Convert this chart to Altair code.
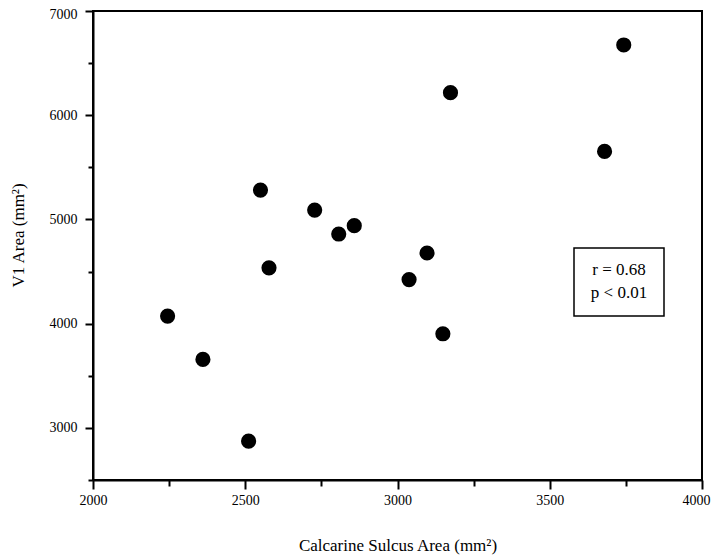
import altair as alt
import pandas as pd

calcarine = [2245, 2361, 2511, 2550, 2578, 2728, 2807, 2858, 3038, 3097, 3149, 3174, 3680, 3743]
v1_area = [4073, 3657, 2873, 5282, 4536, 5090, 4860, 4940, 4423, 4678, 3903, 6216, 5653, 6674]
stats_lines = ["r = 0.68", "p < 0.01"]

x_ticks = list(range(2000, 4001, 250))
y_ticks = list(range(2500, 7001, 500))

df = pd.DataFrame({"x": calcarine, "y": v1_area})

FONT = "Liberation Serif"

xscale = alt.Scale(domain=[2000, 4000], nice=False, zero=False)
yscale = alt.Scale(domain=[2500, 7000], nice=False, zero=False)

points = alt.Chart(df).mark_circle(size=230, color="black", opacity=1).encode(
    x=alt.X("x:Q", scale=xscale,
            axis=alt.Axis(title="Calcarine Sulcus Area (mm²)", values=x_ticks,
                          labelExpr="datum.value % 500 == 0 ? datum.value : ''",
                          grid=False, tickWidth=2, tickColor="black",
                          tickSize={"condition": {"test": "datum.value % 500 == 0", "value": 9}, "value": 6},
                          domainColor="black", domainWidth=2,
                          labelFont=FONT, labelFontSize=14, labelColor="black",
                          labelPadding=4, labelFlush=False,
                          labelOffset={"condition": {"test": "datum.value == 4000", "value": -6}, "value": 0},
                          titleFont=FONT, titleFontSize=17, titleFontWeight="normal",
                          titleColor="black", titleY=57, titleBaseline="top")),
    y=alt.Y("y:Q", scale=yscale,
            axis=alt.Axis(title="V1 Area (mm²)", values=y_ticks,
                          labelExpr="datum.value % 1000 == 0 ? datum.value : ''",
                          grid=False, tickWidth=2, tickColor="black",
                          tickSize={"condition": {"test": "datum.value % 1000 == 0", "value": 8}, "value": 5},
                          domainColor="black", domainWidth=2,
                          labelFont=FONT, labelFontSize=14, labelColor="black",
                          labelPadding=8, labelFlush=False,
                          labelOffset={"condition": {"test": "datum.value == 7000", "value": 3}, "value": 0},
                          titleFont=FONT, titleFontSize=17, titleFontWeight="normal",
                          titleColor="black", titleAngle=-90, titleX=-75, titleY=224,
                          titleAlign="center", titleBaseline="middle")),
)

box = alt.Chart(pd.DataFrame({"a": [0]})).mark_rect(
    fill="white", stroke="black", strokeWidth=1.5
).encode(
    x=alt.value(481), x2=alt.value(571), y=alt.value(237), y2=alt.value(305)
)

t1 = alt.Chart(pd.DataFrame({"t": [stats_lines[0]]})).mark_text(
    font=FONT, fontSize=17, color="black", align="center", baseline="middle"
).encode(text="t:N", x=alt.value(526), y=alt.value(259))
t2 = alt.Chart(pd.DataFrame({"t": [stats_lines[1]]})).mark_text(
    font=FONT, fontSize=17, color="black", align="center", baseline="middle"
).encode(text="t:N", x=alt.value(526), y=alt.value(282))

chart = alt.layer(points, box, t1, t2).properties(
    width=609, height=469,
    background="white",
    autosize=alt.AutoSizeParams(type="none"),
    padding={"left": 85, "top": 3, "right": 10, "bottom": 77},
).configure_view(stroke="black", strokeWidth=2)

chart.save("out.html", embed_options={"renderer": "svg", "actions": False})
